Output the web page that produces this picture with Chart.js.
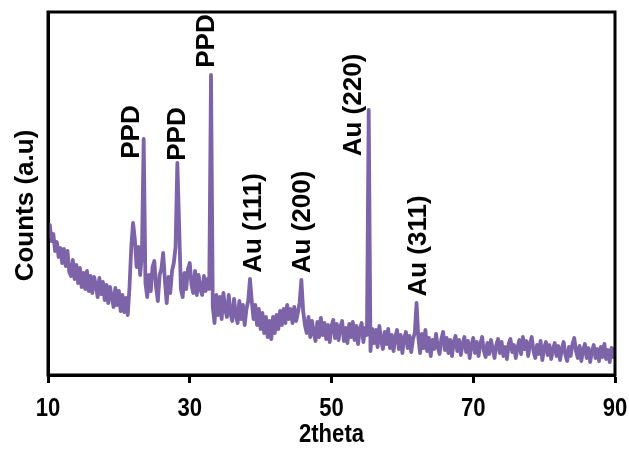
<!DOCTYPE html>
<html>
<head>
<meta charset="utf-8">
<script src="https://cdn.jsdelivr.net/npm/chart.js@4.4.1/dist/chart.umd.min.js"></script>
<style>
  html, body { margin: 0; padding: 0; background: #fff; }
  #wrap { width: 629px; height: 451px; }
</style>
</head>
<body>
<div id="wrap"><canvas id="xrdChart" width="629" height="451"></canvas></div>
<script>
// 2theta positions (degrees)
const twoTheta = [
  10.00, 10.25, 10.50, 10.75, 11.00, 11.25, 11.50, 11.75, 12.00, 12.25, 12.50, 12.75, 13.00, 13.25, 13.50, 13.75,
  14.00, 14.25, 14.50, 14.75, 15.00, 15.25, 15.50, 15.75, 16.00, 16.25, 16.50, 16.75, 17.00, 17.25, 17.50, 17.75,
  18.00, 18.25, 18.50, 18.75, 19.00, 19.25, 19.50, 19.75, 20.00, 20.25, 20.50, 20.75, 21.00, 21.25, 21.50, 21.75,
  22.00, 22.25, 22.50, 22.75, 23.00, 23.25, 23.50, 23.75, 24.00, 24.25, 24.50, 24.75, 25.00, 25.25, 25.50, 25.75,
  26.00, 26.25, 26.50, 26.75, 27.00, 27.25, 27.50, 27.75, 28.00, 28.25, 28.50, 28.75, 29.00, 29.25, 29.50, 29.75,
  30.00, 30.25, 30.50, 30.75, 31.00, 31.25, 31.50, 31.75, 32.00, 32.25, 32.50, 32.75, 33.00, 33.25, 33.50, 33.75,
  34.00, 34.25, 34.50, 34.75, 35.00, 35.25, 35.50, 35.75, 36.00, 36.25, 36.50, 36.75, 37.00, 37.25, 37.50, 37.75,
  38.00, 38.25, 38.50, 38.75, 39.00, 39.25, 39.50, 39.75, 40.00, 40.25, 40.50, 40.75, 41.00, 41.25, 41.50, 41.75,
  42.00, 42.25, 42.50, 42.75, 43.00, 43.25, 43.50, 43.75, 44.00, 44.25, 44.50, 44.75, 45.00, 45.25, 45.50, 45.75,
  46.00, 46.25, 46.50, 46.75, 47.00, 47.25, 47.50, 47.75, 48.00, 48.25, 48.50, 48.75, 49.00, 49.25, 49.50, 49.75,
  50.00, 50.25, 50.50, 50.75, 51.00, 51.25, 51.50, 51.75, 52.00, 52.25, 52.50, 52.75, 53.00, 53.25, 53.50, 53.75,
  54.00, 54.25, 54.50, 54.75, 55.00, 55.25, 55.50, 55.75, 56.00, 56.25, 56.50, 56.75, 57.00, 57.25, 57.50, 57.75,
  58.00, 58.25, 58.50, 58.75, 59.00, 59.25, 59.50, 59.75, 60.00, 60.25, 60.50, 60.75, 61.00, 61.25, 61.50, 61.75,
  62.00, 62.25, 62.50, 62.75, 63.00, 63.25, 63.50, 63.75, 64.00, 64.25, 64.50, 64.75, 65.00, 65.25, 65.50, 65.75,
  66.00, 66.25, 66.50, 66.75, 67.00, 67.25, 67.50, 67.75, 68.00, 68.25, 68.50, 68.75, 69.00, 69.25, 69.50, 69.75,
  70.00, 70.25, 70.50, 70.75, 71.00, 71.25, 71.50, 71.75, 72.00, 72.25, 72.50, 72.75, 73.00, 73.25, 73.50, 73.75,
  74.00, 74.25, 74.50, 74.75, 75.00, 75.25, 75.50, 75.75, 76.00, 76.25, 76.50, 76.75, 77.00, 77.25, 77.50, 77.75,
  78.00, 78.25, 78.50, 78.75, 79.00, 79.25, 79.50, 79.75, 80.00, 80.25, 80.50, 80.75, 81.00, 81.25, 81.50, 81.75,
  82.00, 82.25, 82.50, 82.75, 83.00, 83.25, 83.50, 83.75, 84.00, 84.25, 84.50, 84.75, 85.00, 85.25, 85.50, 85.75,
  86.00, 86.25, 86.50, 86.75, 87.00, 87.25, 87.50, 87.75, 88.00, 88.25, 88.50, 88.75, 89.00, 89.25, 89.50, 89.75,
  90.00
];
// intensity (a.u.), same order as twoTheta
const counts = [
  145, 150, 134, 141, 124, 133, 118, 127, 112, 126, 109, 124, 103, 99, 115, 96,
  110, 92, 107, 88, 102, 86, 104, 84, 99, 82, 98, 90, 78, 97, 81, 93,
  75, 90, 72, 88, 78, 68, 87, 70, 84, 64, 80, 63, 77, 60, 88, 128,
  152, 136, 108, 128, 100, 120, 236, 92, 78, 100, 84, 108, 114, 88, 74, 100,
  106, 122, 94, 72, 98, 82, 104, 112, 128, 212, 150, 86, 78, 102, 86, 106,
  112, 90, 82, 104, 80, 100, 86, 80, 99, 84, 96, 86, 300, 68, 52, 80,
  60, 78, 56, 82, 66, 58, 80, 62, 54, 76, 60, 52, 74, 56, 70, 50,
  66, 74, 96, 74, 56, 70, 50, 66, 46, 62, 42, 58, 38, 54, 36, 58,
  42, 60, 46, 64, 50, 66, 52, 70, 56, 66, 52, 68, 54, 62, 72, 95,
  64, 50, 42, 58, 38, 54, 42, 34, 53, 38, 57, 40, 52, 36, 50, 33,
  49, 55, 37, 51, 35, 48, 54, 34, 47, 32, 51, 38, 53, 35, 49, 31,
  46, 52, 33, 47, 40, 265, 24, 46, 32, 45, 28, 49, 35, 26, 43, 31,
  46, 27, 40, 24, 38, 45, 26, 40, 22, 37, 43, 27, 39, 23, 36, 42,
  72, 38, 22, 41, 27, 45, 24, 37, 19, 35, 26, 41, 28, 21, 36, 43,
  25, 37, 22, 35, 19, 33, 39, 24, 35, 20, 31, 38, 23, 34, 17, 30,
  37, 22, 33, 19, 31, 38, 24, 18, 32, 21, 35, 26, 17, 30, 36, 22,
  33, 19, 28, 16, 31, 36, 23, 30, 17, 27, 35, 21, 38, 26, 34, 19,
  31, 38, 24, 17, 30, 21, 34, 15, 27, 33, 20, 30, 16, 26, 32, 19,
  29, 15, 26, 33, 20, 14, 28, 19, 31, 37, 24, 17, 29, 14, 25, 31,
  17, 27, 13, 24, 30, 17, 26, 14, 28, 18, 31, 16, 25, 13, 27, 18,
  28
];

// peak labels: text, 2theta and height of the label centre
const peakNames = ['PPD', 'PPD', 'PPD', 'Au (111)', 'Au (200)', 'Au (220)', 'Au (311)'];
const peakLabelX = [21.8, 28.3, 32.4, 39.0, 46.0, 53.1, 62.3];
const peakLabelY = [243, 241, 334, 152, 153, 270, 129];

const xTicks = [10, 30, 50, 70, 90];

const lineColor = '#7d63a8';
const plainFont = '"Liberation Sans", Arial, sans-serif';

const points = twoTheta.map((t, i) => ({ x: t, y: counts[i] }));

// box, axis texts (narrow like Arial Narrow) and the rotated peak labels
const extras = {
  id: 'extras',
  afterDatasetsDraw(chart) {
    const { ctx, chartArea, scales } = chart;
    ctx.save();
    ctx.strokeStyle = '#000';
    ctx.lineWidth = 3;
    ctx.strokeRect(chartArea.left, chartArea.top, chartArea.right - chartArea.left, chartArea.bottom - chartArea.top);

    ctx.fillStyle = '#000';
    ctx.textAlign = 'center';
    ctx.textBaseline = 'middle';
    ctx.font = 'bold 26px ' + plainFont;

    // x tick labels, squeezed horizontally
    xTicks.forEach(v => {
      ctx.save();
      ctx.translate(scales.x.getPixelForValue(v), chartArea.bottom + 34);
      ctx.scale(0.85, 1);
      ctx.fillText(String(v), 0, 0);
      ctx.restore();
    });

    // x title
    ctx.save();
    ctx.translate((chartArea.left + chartArea.right) / 2, chartArea.bottom + 60);
    ctx.scale(0.85, 1);
    ctx.fillText('2theta', 0, 0);
    ctx.restore();

    // y title
    ctx.save();
    ctx.translate(chartArea.left - 22, (chartArea.top + chartArea.bottom) / 2 + 12);
    ctx.rotate(-Math.PI / 2);
    ctx.fillText('Counts (a.u)', 0, 0);
    ctx.restore();

    peakNames.forEach((name, i) => {
      const px = scales.x.getPixelForValue(peakLabelX[i]);
      const py = scales.y.getPixelForValue(peakLabelY[i]);
      ctx.save();
      ctx.translate(px, py);
      ctx.rotate(-Math.PI / 2);
      ctx.fillText(name, 0, 0);
      ctx.restore();
    });
    ctx.restore();
  }
};

new Chart(document.getElementById('xrdChart'), {
  type: 'line',
  data: {
    datasets: [{
      data: points,
      borderColor: lineColor,
      borderWidth: 3.8,
      borderJoinStyle: 'round',
      pointRadius: 0,
      tension: 0,
      fill: false
    }]
  },
  options: {
    responsive: false,
    animation: false,
    layout: { padding: { top: 12, right: 14, left: 0, bottom: 0 } },
    plugins: {
      legend: { display: false },
      tooltip: { enabled: false }
    },
    scales: {
      x: {
        type: 'linear',
        min: 10,
        max: 90,
        afterBuildTicks: scale => { scale.ticks = xTicks.map(v => ({ value: v })); },
        afterFit: scale => { scale.height = 76; },
        border: { display: true, color: '#000', width: 3 },
        grid: { display: true, drawOnChartArea: false, drawTicks: true, tickLength: 8, tickWidth: 3, tickColor: '#000' },
        ticks: { display: false },
        title: { display: false }
      },
      y: {
        min: 0,
        max: 363,
        afterFit: scale => { scale.width = 48; },
        border: { display: true, color: '#000', width: 3 },
        grid: { display: false },
        ticks: { display: false },
        title: { display: false }
      }
    }
  },
  plugins: [extras]
});
</script>
</body>
</html>
